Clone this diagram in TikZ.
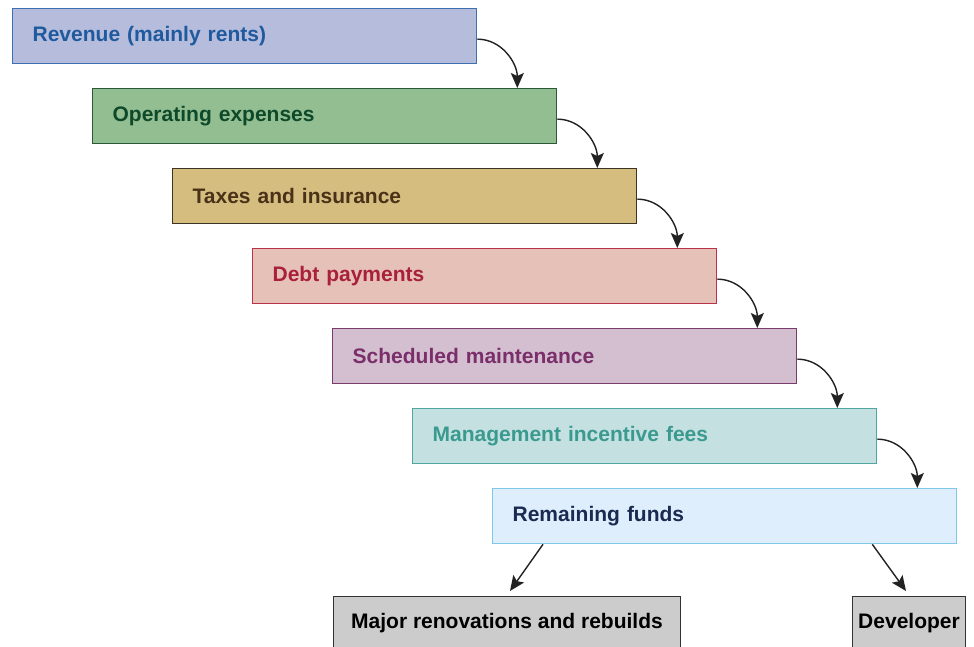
\documentclass[tikz,border=0pt]{standalone}
\usepackage{fontspec}
\setmainfont{Liberation Sans}
\usetikzlibrary{arrows.meta,calc}
\definecolor{f1}{HTML}{B6BCDB}\definecolor{d1}{HTML}{3E6FB0}\definecolor{t1}{HTML}{1F5A9E}
\definecolor{f2}{HTML}{93BE92}\definecolor{d2}{HTML}{2A5A3A}\definecolor{t2}{HTML}{0E4A2A}
\definecolor{f3}{HTML}{D5BD80}\definecolor{d3}{HTML}{3E3424}\definecolor{t3}{HTML}{4A3218}
\definecolor{f4}{HTML}{E5C1B8}\definecolor{d4}{HTML}{B8334A}\definecolor{t4}{HTML}{A8203A}
\definecolor{f5}{HTML}{D4BFD0}\definecolor{d5}{HTML}{7B3A6E}\definecolor{t5}{HTML}{7A2E6A}
\definecolor{f6}{HTML}{C5E0E0}\definecolor{d6}{HTML}{4FA8A0}\definecolor{t6}{HTML}{3A9A90}
\definecolor{f7}{HTML}{DEEEFC}\definecolor{d7}{HTML}{7EC8E8}\definecolor{t7}{HTML}{1A2A50}
\definecolor{fg}{HTML}{CCCCCC}\definecolor{dg}{HTML}{333333}
\definecolor{arr}{HTML}{222222}
\tikzset{
  boxfont/.style={font=\bfseries\fontsize{21}{24}\selectfont},
  stagebox/.style={draw, line width=1.3pt, anchor=north west, minimum height=55pt,
    text width=424pt, inner xsep=20pt, align=left, boxfont},
  endbox/.style={draw=dg, fill=fg, line width=1.3pt, anchor=north west, minimum height=70pt,
    inner xsep=0pt, text=black},
  flow/.style={-{Stealth[length=15pt,width=13pt,inset=3pt]}, line width=1.4pt, draw=arr}
}
\begin{document}
\begin{tikzpicture}[x=1pt,y=-1pt]
\useasboundingbox (0,0) rectangle (974,647);
\node[stagebox, fill=f1, draw=d1, text=t1] (s1) at (12,8) {Revenue (mainly rents)};
\node[stagebox, fill=f2, draw=d2, text=t2] (s2) at (92,88) {Operating expenses};
\node[stagebox, fill=f3, draw=d3, text=t3] (s3) at (172,168) {Taxes and insurance};
\node[stagebox, fill=f4, draw=d4, text=t4] (s4) at (252,248) {Debt payments};
\node[stagebox, fill=f5, draw=d5, text=t5] (s5) at (332,328) {Scheduled maintenance};
\node[stagebox, fill=f6, draw=d6, text=t6] (s6) at (412,408) {Management incentive fees};
\node[stagebox, fill=f7, draw=d7, text=t7] (s7) at (492,488) {Remaining funds};
\node[endbox, minimum width=347pt] (maj) at (333,596) {};
\node[boxfont] (majt) at (507,623) {Major renovations and rebuilds};
\node[endbox, minimum width=113pt] (dev) at (852,596) {};
\node[boxfont] (devt) at (909,623) {Developer};
\foreach \a/\b in {s1/s2,s2/s3,s3/s4,s4/s5,s5/s6,s6/s7}{
  \draw[flow] ([yshift=-3pt]\a.east) to[out=0,in=90] ([xshift=-40pt]\b.north east);
}
\draw[flow] ([xshift=51pt]s7.south west) -- ([xshift=177pt,yshift=5pt]maj.north west);
\draw[flow] ([xshift=-85pt]s7.south east) -- ([xshift=54pt,yshift=5pt]dev.north west);
\end{tikzpicture}
\end{document}
